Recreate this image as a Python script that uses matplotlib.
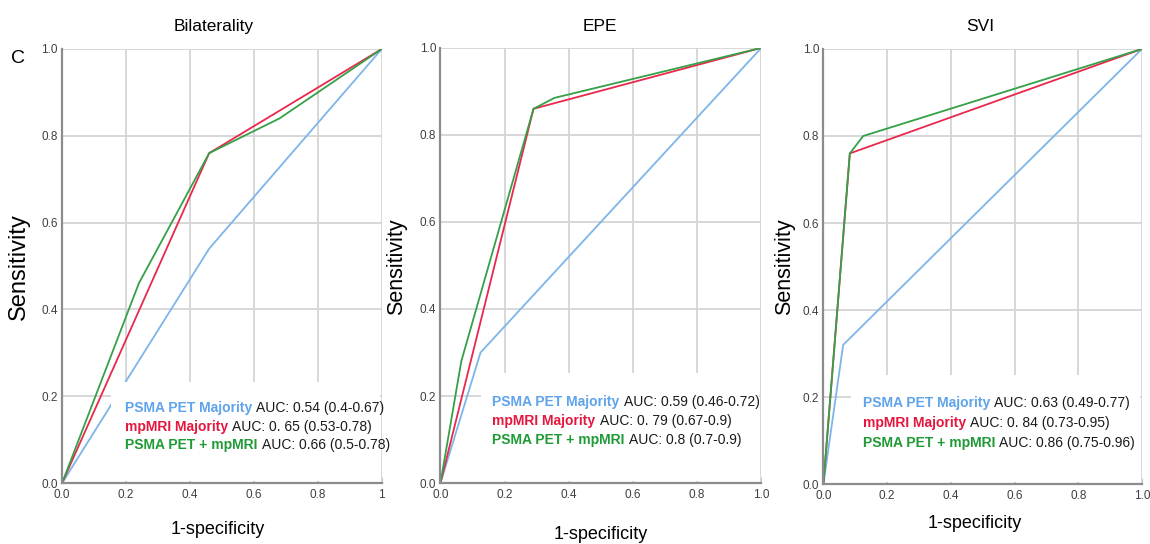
"""
ROC curves: Bilaterality, EPE and SVI for PSMA PET, mpMRI and combination.
"""

import matplotlib
matplotlib.use('Agg')
import matplotlib.pyplot as plt
from matplotlib.patches import Rectangle
from matplotlib.offsetbox import TextArea, HPacker, AnnotationBbox

plt.rcParams['font.family'] = ['Liberation Sans', 'DejaVu Sans']

# ---- data (1-specificity, sensitivity) ----
panel_titles = ['Bilaterality', 'EPE', 'SVI']
series_names = ['PSMA PET Majority', 'mpMRI Majority', 'PSMA PET + mpMRI']

bil_pet_x = [0, 0.46, 1]
bil_pet_y = [0, 0.54, 1]
bil_mri_x = [0, 0.46, 1]
bil_mri_y = [0, 0.76, 1]
bil_comb_x = [0, 0.24, 0.46, 0.68, 1]
bil_comb_y = [0, 0.46, 0.76, 0.84, 1]

epe_pet_x = [0, 0.125, 1]
epe_pet_y = [0, 0.30, 1]
epe_mri_x = [0, 0.29, 1]
epe_mri_y = [0, 0.86, 1]
epe_comb_x = [0, 0.065, 0.29, 0.355, 1]
epe_comb_y = [0, 0.28, 0.86, 0.885, 1]

svi_pet_x = [0, 0.062, 1]
svi_pet_y = [0, 0.32, 1]
svi_mri_x = [0, 0.083, 1]
svi_mri_y = [0, 0.76, 1]
svi_comb_x = [0, 0.083, 0.125, 1]
svi_comb_y = [0, 0.76, 0.80, 1]

auc_bil = ['AUC: 0.54 (0.4-0.67)', 'AUC: 0. 65 (0.53-0.78)', 'AUC: 0.66 (0.5-0.78)']
auc_epe = ['AUC: 0.59 (0.46-0.72)', 'AUC: 0. 79 (0.67-0.9)', 'AUC: 0.8 (0.7-0.9)']
auc_svi = ['AUC: 0.63 (0.49-0.77)', 'AUC: 0. 84 (0.73-0.95)', 'AUC: 0.86 (0.75-0.96)']

ticks = [0, 0.2, 0.4, 0.6, 0.8, 1.0]
ytick_labels = ['0.0', '0.2', '0.4', '0.6', '0.8', '1.0']
xtick_labels_first = ['0.0', '0.2', '0.4', '0.6', '0.8', '1']
xtick_labels = ['0.0', '0.2', '0.4', '0.6', '0.8', '1.0']

line_colors = ['#7db5ea', '#e8284c', '#35a047']
text_colors = ['#5ea4ea', '#e5173f', '#1f9a35']

curves = [
    [(bil_pet_x, bil_pet_y), (bil_mri_x, bil_mri_y), (bil_comb_x, bil_comb_y)],
    [(epe_pet_x, epe_pet_y), (epe_mri_x, epe_mri_y), (epe_comb_x, epe_comb_y)],
    [(svi_pet_x, svi_pet_y), (svi_mri_x, svi_mri_y), (svi_comb_x, svi_comb_y)],
]
aucs = [auc_bil, auc_epe, auc_svi]

# ---- layout (figure fractions) ----
fig = plt.figure(figsize=(11.5, 5.44), dpi=100)
axes_rects = [
    [0.054, 0.112, 0.278, 0.798],
    [0.383, 0.112, 0.279, 0.800],
    [0.716, 0.110, 0.277, 0.800],
]
# white box behind the AUC text: (x0, y_top) in axes coords
box_spec = [(0.152, 0.233), (0.125, 0.253), (0.087, 0.25)]
text_spec = [(0.197, [0.172, 0.130, 0.088]),
             (0.162, [0.186, 0.143, 0.098]),
             (0.123, [0.187, 0.141, 0.095])]
title_x = [0.186, 0.522, 0.852]
xlabel_pos = [(0.189, 0.026), (0.522, 0.017), (0.848, 0.037)]
ylabel_pos = [(0.016, 0.51, 17), (0.345, 0.51, 15.5), (0.682, 0.51, 15.5)]

for i in range(3):
    ax = fig.add_axes(axes_rects[i])
    ax.set_axisbelow(True)
    ax.grid(True, color='#d4d4d4', linewidth=1.3)

    for j, (xs, ys) in enumerate(curves[i]):
        ax.plot(xs, ys, color=line_colors[j], linewidth=1.3, zorder=0.8,
                solid_joinstyle='miter')

    x0, ytop = box_spec[i]
    ax.add_patch(Rectangle((x0, 0.004), 0.993 - x0, ytop - 0.004,
                           transform=ax.transAxes, facecolor='white',
                           edgecolor='none', zorder=1))

    tx, tys = text_spec[i]
    for j in range(3):
        name = TextArea(series_names[j],
                        textprops=dict(color=text_colors[j], fontweight='bold', fontsize=10))
        rest = TextArea(aucs[i][j], textprops=dict(color='#1a1a1a', fontsize=10))
        pack = HPacker(children=[name, rest], sep=3, pad=0, align='baseline')
        ab = AnnotationBbox(pack, (tx, tys[j]), xycoords='axes fraction',
                            box_alignment=(0, 0.5), frameon=False, pad=0)
        ab.set_zorder(3)
        ax.add_artist(ab)

    ax.set_xlim(0, 1)
    ax.set_ylim(0, 1)
    ax.set_xticks(ticks)
    ax.set_yticks(ticks)
    ax.set_xticklabels(xtick_labels_first if i == 0 else xtick_labels)
    ax.set_yticklabels(ytick_labels)
    ax.tick_params(axis='x', direction='in', length=4, color='#c8c8c8',
                   labelsize=8.5, labelcolor='#404040', pad=4)
    ax.tick_params(axis='y', length=0, labelsize=8.5, labelcolor='#404040', pad=3)
    for side in ['top', 'right']:
        ax.spines[side].set_visible(False)
    for side in ['left', 'bottom']:
        ax.spines[side].set_color('#8c8c8c')
        ax.spines[side].set_linewidth(1.6)

    fig.text(title_x[i], 0.952, panel_titles[i], ha='center', va='center', fontsize=12.5)
    fig.text(xlabel_pos[i][0], xlabel_pos[i][1], '1-specificity',
             ha='center', va='center', fontsize=13)
    fig.text(ylabel_pos[i][0], ylabel_pos[i][1], 'Sensitivity', rotation=90,
             ha='center', va='center', fontsize=ylabel_pos[i][2])

fig.text(0.016, 0.893, 'C', ha='center', va='center', fontsize=14)

plt.savefig('out.png', dpi=100)
plt.close()
